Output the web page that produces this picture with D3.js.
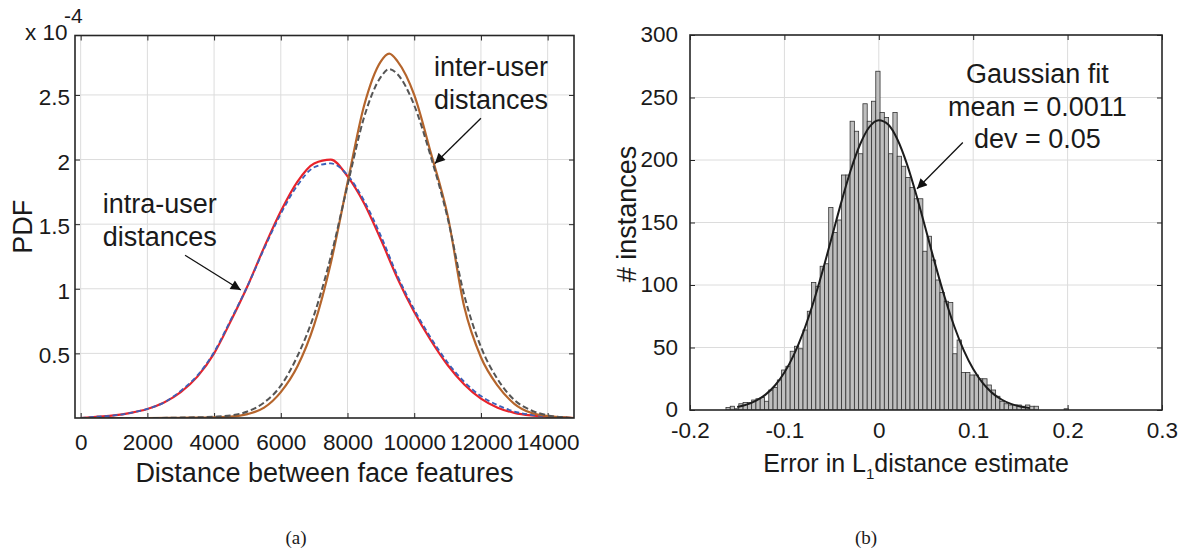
<!DOCTYPE html>
<html>
<head>
<meta charset="utf-8">
<script src="https://cdn.jsdelivr.net/npm/d3@7"></script>
<style>
  body { margin: 0; background: #fff; }
  text { font-family: "Liberation Sans", Arial, sans-serif; fill: #1a1a1a; }
  .caption { font-family: "Liberation Serif", "Times New Roman", serif; }
</style>
</head>
<body>
<div id="chart"></div>
<script>
// ---------- Data: panel (a), PDF values in units of 1e-4 ----------
const intraX = [0, 500, 1000, 1500, 2000, 2500, 3000, 3500, 4000, 4500, 5000, 5500, 6000, 6500, 7000,
  7500, 8000, 8500, 9000, 9500, 10000, 10500, 11000, 11500, 12000, 12500, 13000, 13500, 14000, 14500, 14790]
const intraMeasured = [0, 0.01, 0.02, 0.04, 0.07, 0.12, 0.20, 0.32, 0.50, 0.75, 1.02, 1.32, 1.60, 1.83, 1.97,
  2.00, 1.87, 1.66, 1.38, 1.08, 0.82, 0.60, 0.41, 0.26, 0.15, 0.08, 0.04, 0.02, 0.01, 0.003, 0]
const intraFit = [0, 0.01, 0.02, 0.04, 0.07, 0.12, 0.21, 0.33, 0.51, 0.76, 1.02, 1.31, 1.58, 1.80, 1.94,
  1.97, 1.88, 1.68, 1.41, 1.10, 0.84, 0.62, 0.43, 0.28, 0.17, 0.10, 0.05, 0.025, 0.01, 0.003, 0]

const interX = [0, 1000, 2000, 3000, 4000, 4500, 5000, 5500, 6000, 6500, 7000, 7500, 8000, 8500, 9000,
  9250, 9500, 10000, 10500, 11000, 11500, 12000, 12500, 13000, 13500, 14000, 14500, 14790]
const interMeasured = [0, 0, 0, 0.002, 0.005, 0.01, 0.03, 0.08, 0.20, 0.40, 0.72, 1.20, 1.82, 2.42, 2.76,
  2.82, 2.76, 2.50, 2.05, 1.57, 0.86, 0.47, 0.25, 0.11, 0.04, 0.015, 0.005, 0]
const interFit = [0, 0, 0, 0.003, 0.01, 0.02, 0.05, 0.12, 0.25, 0.48, 0.80, 1.25, 1.80, 2.33, 2.64,
  2.70, 2.66, 2.42, 2.02, 1.55, 0.95, 0.55, 0.30, 0.14, 0.06, 0.02, 0.005, 0]

const distTicks = [0, 2000, 4000, 6000, 8000, 10000, 12000, 14000]
const pdfTicks = [0.5, 1, 1.5, 2, 2.5]

// ---------- Data: panel (b), histogram of estimate error ----------
const binStart = -0.1619
const binWidth = 0.004534
const binCounts = [2, 3, 1, 5, 6, 6, 8, 9, 10, 7,
  16, 18, 24, 32, 35, 47, 51, 49, 64, 79,
  102, 99, 115, 117, 162, 142, 152, 188, 188, 231,
  223, 205, 245, 231, 247, 271, 238, 234, 205, 238,
  203, 195, 186, 178, 169, 169, 127, 139, 120, 104,
  94, 87, 86, 45, 56, 30, 30, 28, 28, 25,
  25, 20, 16, 11, 7, 5, 4, 4, 4, 3,
  4, 3, 3, 0, 0, 0, 0, 0, 0, 1]

const fitX = [-0.15, -0.14, -0.13, -0.12, -0.11, -0.10, -0.09, -0.08, -0.07, -0.06, -0.05, -0.04, -0.03,
  -0.02, -0.01, 0, 0.01, 0.02, 0.03, 0.04, 0.05, 0.06, 0.07, 0.08, 0.09, 0.10, 0.11, 0.12, 0.13, 0.14, 0.15, 0.16]
const fitY = [2.4, 4.3, 7.5, 12.3, 19.6, 30.0, 44.1, 62.3, 84.4, 110.0, 137.6, 165.5, 191.2,
  212.2, 226.4, 231.9, 228.4, 216.0, 196.3, 171.4, 143.8, 115.9, 89.8, 66.8, 47.7, 32.8, 21.7, 13.7, 8.4, 4.9, 2.8, 1.5]

const errTicks = [-0.2, -0.1, 0, 0.1, 0.2, 0.3]
const countTicks = [0, 50, 100, 150, 200, 250, 300]

// ---------- Dimensions ----------
const dimensions = { width: 1183, height: 551 }
const boxA = { left: 75, right: 574, top: 35.5, bottom: 418 }
const boxB = { left: 690, right: 1162, top: 35, bottom: 410 }

const svg = d3.select('#chart')
  .append('svg')
  .attr('width', dimensions.width)
  .attr('height', dimensions.height)

const defs = svg.append('defs')
defs.append('marker')
  .attr('id', 'head')
  .attr('viewBox', '0 0 10 10')
  .attr('refX', 10).attr('refY', 5)
  .attr('markerWidth', 13).attr('markerHeight', 10)
  .attr('markerUnits', 'userSpaceOnUse')
  .attr('orient', 'auto')
  .append('path')
  .attr('d', 'M0,0 L10,5 L0,10 Z')
  .attr('fill', '#111')

function clip(id, box) {
  defs.append('clipPath').attr('id', id)
    .append('rect')
    .attr('x', box.left).attr('y', box.top)
    .attr('width', box.right - box.left).attr('height', box.bottom - box.top)
}
clip('clipA', boxA)
clip('clipB', boxB)

const xA = d3.scaleLinear().domain([-170, 14790]).range([boxA.left, boxA.right])
const yA = d3.scaleLinear().domain([0, 2.96]).range([boxA.bottom, boxA.top])
const xB = d3.scaleLinear().domain([-0.2, 0.3]).range([boxB.left, boxB.right])
const yB = d3.scaleLinear().domain([0, 300]).range([boxB.bottom, boxB.top])

const plain = d => String(d) // keeps the ASCII hyphen like the original

// grid + ticks + box, MATLAB style (ticks inside on all four sides)
function drawFrame(box, xScale, yScale, xTicks, yTicks, xPad, yPad, yDy) {
  const g = svg.append('g')
  const grid = g.append('g').attr('stroke', '#dcdcdc').attr('stroke-width', 1)
  grid.selectAll('.gx')
    .data(xTicks.filter(t => xScale(t) > box.left + 1 && xScale(t) < box.right - 1))
    .join('line')
    .attr('x1', d => xScale(d)).attr('x2', d => xScale(d))
    .attr('y1', box.top).attr('y2', box.bottom)
  grid.selectAll('.gy')
    .data(yTicks.filter(t => yScale(t) > box.top + 1 && yScale(t) < box.bottom - 1))
    .join('line')
    .attr('x1', box.left).attr('x2', box.right)
    .attr('y1', d => yScale(d)).attr('y2', d => yScale(d))

  const style = sel => {
    sel.select('.domain').remove()
    sel.attr('font-family', '"Liberation Sans", Arial, sans-serif')
      .attr('font-size', 22.5)
      .attr('color', '#1a1a1a')
    sel.selectAll('.tick line').attr('stroke', '#262626').attr('stroke-width', 1)
  }

  g.append('g').attr('transform', `translate(0,${box.bottom})`)
    .call(d3.axisBottom(xScale).tickValues(xTicks).tickSize(-5).tickPadding(xPad).tickFormat(plain))
    .call(style)
  g.append('g').attr('transform', `translate(0,${box.top})`)
    .call(d3.axisTop(xScale).tickValues(xTicks).tickSize(-5).tickFormat(''))
    .call(style)
  g.append('g').attr('transform', `translate(${box.left},0)`)
    .call(d3.axisLeft(yScale).tickValues(yTicks).tickSize(-5).tickPadding(yPad).tickFormat(plain))
    .call(style)
    .selectAll('text').attr('dy', yDy)
  g.append('g').attr('transform', `translate(${box.right},0)`)
    .call(d3.axisRight(yScale).tickValues(yTicks).tickSize(-5).tickFormat(''))
    .call(style)
  return g
}

// ---------- Panel (a) ----------
drawFrame(boxA, xA, yA, distTicks, pdfTicks, 16, 5, '0.42em')

const lineA = (xs) => d3.line()
  .x((d, i) => xA(xs[i]))
  .y(d => yA(d))
  .curve(d3.curveMonotoneX)

const curvesA = svg.append('g').attr('clip-path', 'url(#clipA)').attr('fill', 'none')
curvesA.append('path').attr('d', lineA(intraX)(intraMeasured))
  .attr('stroke', '#e8232b').attr('stroke-width', 2.2)
curvesA.append('path').attr('d', lineA(intraX)(intraFit))
  .attr('stroke', '#3b5fb8').attr('stroke-width', 1.8).attr('stroke-dasharray', '5,3')
curvesA.append('path').attr('d', lineA(interX)(interMeasured))
  .attr('stroke', '#b5652c').attr('stroke-width', 2.2)
curvesA.append('path').attr('d', lineA(interX)(interFit))
  .attr('stroke', '#555555').attr('stroke-width', 2).attr('stroke-dasharray', '6,3')

svg.append('rect')
  .attr('x', boxA.left).attr('y', boxA.top)
  .attr('width', boxA.right - boxA.left).attr('height', boxA.bottom - boxA.top)
  .attr('fill', 'none').attr('stroke', '#262626').attr('stroke-width', 1.6)

// exponent label
svg.append('text').attr('x', 25).attr('y', 40).attr('font-size', 22.5).text('x 10')
svg.append('text').attr('x', 64).attr('y', 23).attr('font-size', 21).text('-4')

svg.append('text')
  .attr('transform', `translate(32,${(boxA.top + boxA.bottom) / 2}) rotate(-90)`)
  .attr('text-anchor', 'middle').attr('font-size', 27)
  .text('PDF')
svg.append('text')
  .attr('x', (boxA.left + boxA.right) / 2).attr('y', 482)
  .attr('text-anchor', 'middle').attr('font-size', 27)
  .text('Distance between face features')

// annotations (positions in data units)
function note(x, lines, y0, size) {
  const t = svg.append('text').attr('text-anchor', 'middle').attr('font-size', size)
  lines.forEach((s, i) => t.append('tspan').attr('x', x).attr('y', y0 + i * 32.5).text(s))
}
note(xA(2370), ['intra-user', 'distances'], 213, 27)
note(xA(12300), ['inter-user', 'distances'], 76, 27)

svg.append('line')
  .attr('x1', xA(3130)).attr('y1', yA(1.26))
  .attr('x2', xA(4800)).attr('y2', yA(0.99))
  .attr('stroke', '#111').attr('stroke-width', 1.3).attr('marker-end', 'url(#head)')
svg.append('line')
  .attr('x1', xA(12000)).attr('y1', yA(2.32))
  .attr('x2', xA(10620)).attr('y2', yA(1.97))
  .attr('stroke', '#111').attr('stroke-width', 1.3).attr('marker-end', 'url(#head)')

// ---------- Panel (b) ----------
drawFrame(boxB, xB, yB, errTicks, countTicks, 12, 12, '0.3em')

const bars = svg.append('g').attr('clip-path', 'url(#clipB)')
bars.selectAll('rect')
  .data(binCounts.map((c, i) => ({ x0: binStart + i * binWidth, x1: binStart + (i + 1) * binWidth, c })))
  .join('rect')
  .filter(d => d.c > 0)
  .attr('x', d => xB(d.x0))
  .attr('width', d => xB(d.x1) - xB(d.x0))
  .attr('y', d => yB(d.c))
  .attr('height', d => yB(0) - yB(d.c))
  .attr('fill', '#bfbfbf')
  .attr('stroke', '#333')
  .attr('stroke-width', 0.8)

bars.append('path')
  .attr('d', d3.line().x((d, i) => xB(fitX[i])).y(d => yB(d)).curve(d3.curveMonotoneX)(fitY))
  .attr('fill', 'none').attr('stroke', '#1c1c1c').attr('stroke-width', 2)

svg.append('rect')
  .attr('x', boxB.left).attr('y', boxB.top)
  .attr('width', boxB.right - boxB.left).attr('height', boxB.bottom - boxB.top)
  .attr('fill', 'none').attr('stroke', '#262626').attr('stroke-width', 1.6)

svg.append('text')
  .attr('transform', 'translate(636,214) rotate(-90)')
  .attr('text-anchor', 'middle').attr('font-size', 27)
  .text('# instances')

const xlabB = svg.append('text')
  .attr('x', 916).attr('y', 472)
  .attr('text-anchor', 'middle').attr('font-size', 25)
xlabB.append('tspan').text('Error in L')
xlabB.append('tspan').attr('font-size', 15).attr('dy', 7).text('1')
xlabB.append('tspan').attr('dy', -7).text('distance estimate')

note(xB(0.168), ['Gaussian fit', 'mean = 0.0011', 'dev = 0.05'], 83, 27)

svg.append('line')
  .attr('x1', xB(0.089)).attr('y1', yB(214))
  .attr('x2', xB(0.0405)).attr('y2', yB(177))
  .attr('stroke', '#111').attr('stroke-width', 1.3).attr('marker-end', 'url(#head)')

// captions
svg.append('text').attr('class', 'caption')
  .attr('x', 296).attr('y', 544).attr('text-anchor', 'middle').attr('font-size', 19)
  .text('(a)')
svg.append('text').attr('class', 'caption')
  .attr('x', 866).attr('y', 544).attr('text-anchor', 'middle').attr('font-size', 19)
  .text('(b)')
</script>
</body>
</html>
